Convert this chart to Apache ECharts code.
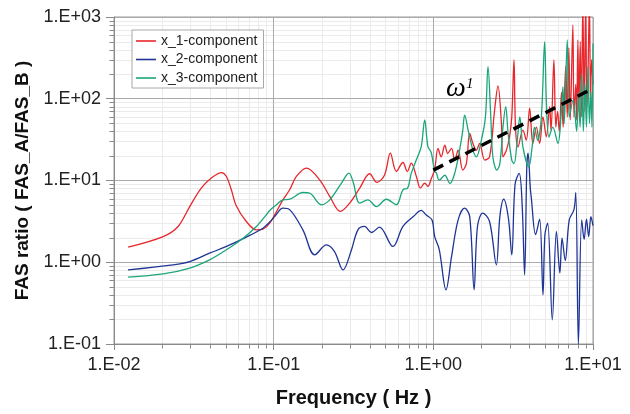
<!DOCTYPE html>
<html><head><meta charset="utf-8">
<script src="https://cdn.jsdelivr.net/npm/echarts@6/dist/echarts.min.js"></script>
<style>html,body{margin:0;padding:0;background:#fff}#c{width:630px;height:414px}</style>
</head><body><div id="c"></div>
<script>
// ---- data ----
const seriesNames = ['x_1-component', 'x_2-component', 'x_3-component'];

const x1Freq = [0.01225,0.0203,0.0252,0.0298,0.0352,0.0407,0.0471,0.0506,0.0543,0.0583,0.0674,0.078,0.0857,0.0944,0.1143,0.1259,0.1387,0.1603,0.194,0.2244,0.262,0.299,0.346,0.399,0.443,0.495,0.538,0.586,0.645,0.687,0.728,0.783,0.83,0.883,0.925,0.97,1.018,1.07,1.12,1.18,1.23,1.3,1.36,1.43,1.53,1.61,1.69,1.77,1.86,1.95,2.1,2.25,2.42,2.54,2.67,2.73,2.87,3.0,3.1,3.2,3.27,3.39,3.64,3.82,4.01,4.2,4.42,4.63,4.86,5.1,5.35,5.46,5.69,5.85,6.0,6.15,6.35,6.5,6.75,6.9,7.06,7.2,7.48,7.6,7.8,7.9,8.04,8.15,8.32,8.45,8.64,8.8,9.0,9.15,9.3,9.5,9.65,9.8,10];
const x1Val  = [1.53,2.06,2.74,4.8,8.07,10.7,12.5,11.2,7.7,4.9,3.15,2.49,2.54,3.0,5.8,7.7,11.2,14.2,10.2,6.4,4.18,5.28,8.07,12.1,9.5,11.7,21.6,12.9,16.6,12.9,16.3,11.2,8.07,9.3,8.45,10.5,13.5,24.7,19.5,27.1,21.4,24.7,17.8,23.5,13.4,16.1,37.6,28.4,23.5,28.4,17.8,19.5,72.8,144,49.9,19.5,23.5,34.3,60,298,45,25.8,41.4,31.2,77,28.4,45,28.4,60,34.3,79.8,41,298,45,70,40,120,45,250,60,420,55,800,60,150,55,520,70,500,60,1500,70,1500,80,200,1500,90,300,150];

const x2Freq = [0.01225,0.0234,0.0298,0.0397,0.0506,0.0674,0.0857,0.0944,0.1014,0.1143,0.1259,0.1524,0.181,0.214,0.24,0.272,0.305,0.337,0.371,0.41,0.46,0.558,0.645,0.75,0.84,0.9,0.98,1.02,1.09,1.2,1.3,1.43,1.57,1.69,1.8,1.89,2.04,2.25,2.48,2.61,2.76,2.95,3.1,3.25,3.45,3.6,3.73,3.85,3.92,4.05,4.1,4.37,4.63,4.86,5.0,5.2,5.56,5.9,6.2,6.4,6.7,7.1,7.6,7.8,8.1,8.5,8.8,9.1,9.4,9.7,10];
const x2Val  = [0.807,0.93,1.02,1.29,1.56,2.03,2.61,3.1,3.62,4.59,4.4,2.49,1.23,1.63,1.36,0.807,1.36,2.49,2.74,2.31,2.69,1.56,2.74,3.62,4.3,3.8,3.3,2.06,1.42,0.46,1.17,3.3,4.59,3.62,0.46,2.74,4.0,3.15,0.93,3.62,5.9,3.5,1.23,9,12.2,5,0.7,15,21.6,8,6.4,2.18,3.36,0.4,2.18,3.0,0.197,2.38,0.74,1.97,1.05,3.3,4.4,7.1,0.1,3.3,1.9,3.36,2.06,3.6,2.8];

const x3Freq = [0.01225,0.0203,0.0298,0.0397,0.0506,0.0643,0.078,0.09,0.0944,0.104,0.1143,0.1259,0.1524,0.168,0.199,0.2244,0.266,0.296,0.314,0.346,0.389,0.44,0.508,0.586,0.645,0.69,0.728,0.783,0.84,0.883,0.925,0.97,1.018,1.045,1.09,1.18,1.27,1.36,1.46,1.53,1.57,1.66,1.77,1.86,2.0,2.12,2.2,2.29,2.36,2.5,2.61,2.73,2.84,2.94,3.1,3.2,3.35,3.48,3.64,3.96,4.15,4.3,4.5,4.75,4.98,5.1,5.3,5.6,6.03,6.3,6.48,6.6,6.9,7.1,7.5,7.9,8.1,8.3,8.5,8.7,8.9,9.1,9.3,9.5,9.7,9.85,10];
const x3Val  = [0.658,0.72,0.85,1.07,1.42,1.97,2.74,3.8,4.3,5.05,5.8,5.9,7.13,7.0,5.05,5.8,9.3,12.3,9.7,5.28,5.8,4.8,5.9,5.05,7.7,8.07,12.3,17.9,26,55,26,22,13,12.3,10.1,11.6,9.2,12.2,23.5,41.4,63,39.4,23.5,19.5,31.2,60,247,60,19.5,13.4,16.1,45,80,37.6,17.8,16.1,30,60,25.8,14.7,25,45,31,60,499,96,34,45,28.4,60,140,50,523,60,96,40,120,45,200,40,150,45,250,50,120,45,475];

const slopeFreq = [1, 10];
const slopeVal  = [13.4, 134];

const xMin = 0.01, xMax = 10, yMin = 0.1, yMax = 1000;
const minorMultipliers = [2,3,4,5,6,7,8,9];

const colors = ['#e8262b', '#1f3596', '#1aa57a'];
const FONT = '"Liberation Sans", Arial, sans-serif';

function fmt(v) {
  const e = Math.round(Math.log10(v));
  return '1.E' + (e < 0 ? '-' : '+') + String(Math.abs(e)).padStart(2, '0');
}
function pairs(fs, vs) { return fs.map((f, i) => [f, vs[i]]); }

const chart = echarts.init(document.getElementById('c'), null, {renderer: 'canvas'});

const grid = {left: 114, right: 37, top: 17, bottom: 70, show: true, borderColor: '#9a9a9a', borderWidth: 1, backgroundColor: 'transparent'};

function lineSeries(i, fs, vs, z) {
  return {name: seriesNames[i], type: 'line', data: pairs(fs, vs), showSymbol: false, symbol: 'none',
    smooth: 0.35, color: colors[i], lineStyle: {width: 1.3}, z: z};
}

const option = {
  animation: false,
  backgroundColor: '#fff',
  grid: grid,
  legend: {
    orient: 'vertical', left: 132, top: 30,
    backgroundColor: '#fff', borderColor: '#a8a8a8', borderWidth: 1,
    padding: [4, 6, 3, 4],
    icon: 'rect', itemWidth: 20, itemHeight: 1.6, itemGap: 4.5,
    textStyle: {fontFamily: FONT, fontSize: 14, color: '#222', lineHeight: 14, height: 14},
    data: seriesNames
  },
  xAxis: {
    type: 'log', logBase: 10, min: xMin, max: xMax,
    name: 'Frequency ( Hz )', nameLocation: 'middle', nameGap: 44,
    nameTextStyle: {fontFamily: FONT, fontSize: 20, fontWeight: 'bold', color: '#111'},
    axisLine: {show: true, onZero: false, lineStyle: {color: '#8a8a8a', width: 1}},
    axisTick: {show: true, inside: false, length: 6, lineStyle: {color: '#8a8a8a'}},
    axisLabel: {formatter: fmt, fontFamily: FONT, fontSize: 18, color: '#222', margin: 12},
    splitLine: {show: true, lineStyle: {color: '#ababab', width: 1}},
    minorTick: {show: false}, minorSplitLine: {show: false}
  },
  yAxis: {
    type: 'log', logBase: 10, min: yMin, max: yMax,
    name: 'FAS ratio ( FAS_A/FAS_B )', nameLocation: 'middle', nameGap: 82, nameRotate: 90,
    nameTextStyle: {fontFamily: FONT, fontSize: 19, fontWeight: 'bold', color: '#111'},
    axisLine: {show: true, onZero: false, lineStyle: {color: '#8a8a8a', width: 1}},
    axisTick: {show: true, inside: false, length: 8, lineStyle: {color: '#8a8a8a'}},
    axisLabel: {formatter: fmt, fontFamily: FONT, fontSize: 18, color: '#222', margin: 13},
    splitLine: {show: true, lineStyle: {color: '#ababab', width: 1}},
    minorTick: {show: false}, minorSplitLine: {show: false}
  },
  series: [
    lineSeries(0, x1Freq, x1Val, 3),
    lineSeries(1, x2Freq, x2Val, 3),
    lineSeries(2, x3Freq, x3Val, 4),
    {name: 'slope', type: 'line', data: pairs(slopeFreq, slopeVal), showSymbol: false, symbol: 'none', color: '#000', lineStyle: {width: 3.5, type: [11, 7]}, z: 6, silent: true}
  ]
};
chart.setOption(option);

// minor grid lines and minor ticks, placed via the axis scales
const gfx = [];
const yBottom = chart.convertToPixel({yAxisIndex: 0}, yMin);
const yTop = chart.convertToPixel({yAxisIndex: 0}, yMax);
const xLeft = chart.convertToPixel({xAxisIndex: 0}, xMin);
const xRight = chart.convertToPixel({xAxisIndex: 0}, xMax);
for (let d = xMin; d < xMax * 0.99; d *= 10) {
  minorMultipliers.forEach(k => {
    const px = Math.round(chart.convertToPixel({xAxisIndex: 0}, k * d)) + 0.5;
    gfx.push({type: 'line', z: -1, silent: true, shape: {x1: px, y1: yTop, x2: px, y2: yBottom}, style: {stroke: '#ebebeb', lineWidth: 1}});
    gfx.push({type: 'line', z: 1, silent: true, shape: {x1: px, y1: yBottom, x2: px, y2: yBottom + 4.5}, style: {stroke: '#8a8a8a', lineWidth: 1}});
  });
}
for (let d = yMin; d < yMax * 0.99; d *= 10) {
  minorMultipliers.forEach(k => {
    const py = Math.round(chart.convertToPixel({yAxisIndex: 0}, k * d)) + 0.5;
    gfx.push({type: 'line', z: -1, silent: true, shape: {x1: xLeft, y1: py, x2: xRight, y2: py}, style: {stroke: '#ebebeb', lineWidth: 1}});
    gfx.push({type: 'line', z: 1, silent: true, shape: {x1: xLeft - 4.5, y1: py, x2: xLeft, y2: py}, style: {stroke: '#8a8a8a', lineWidth: 1}});
  });
}
// omega annotation anchored to a data position
const omegaAnchor = chart.convertToPixel({gridIndex: 0}, [1.2, 132]);
gfx.push({type: 'text', z: 10, silent: true, x: omegaAnchor[0], y: omegaAnchor[1],
  style: {text: 'ω', font: 'italic 28px "Liberation Serif", "DejaVu Serif", serif', fill: '#000', verticalAlign: 'middle', align: 'left'}});
gfx.push({type: 'text', z: 10, silent: true, x: omegaAnchor[0] + 20, y: omegaAnchor[1] - 5,
  style: {text: '1', font: 'italic 15px "Liberation Serif", "DejaVu Serif", serif', fill: '#000', verticalAlign: 'middle', align: 'left'}});
chart.setOption({graphic: {elements: gfx}});
</script>
</body></html>
